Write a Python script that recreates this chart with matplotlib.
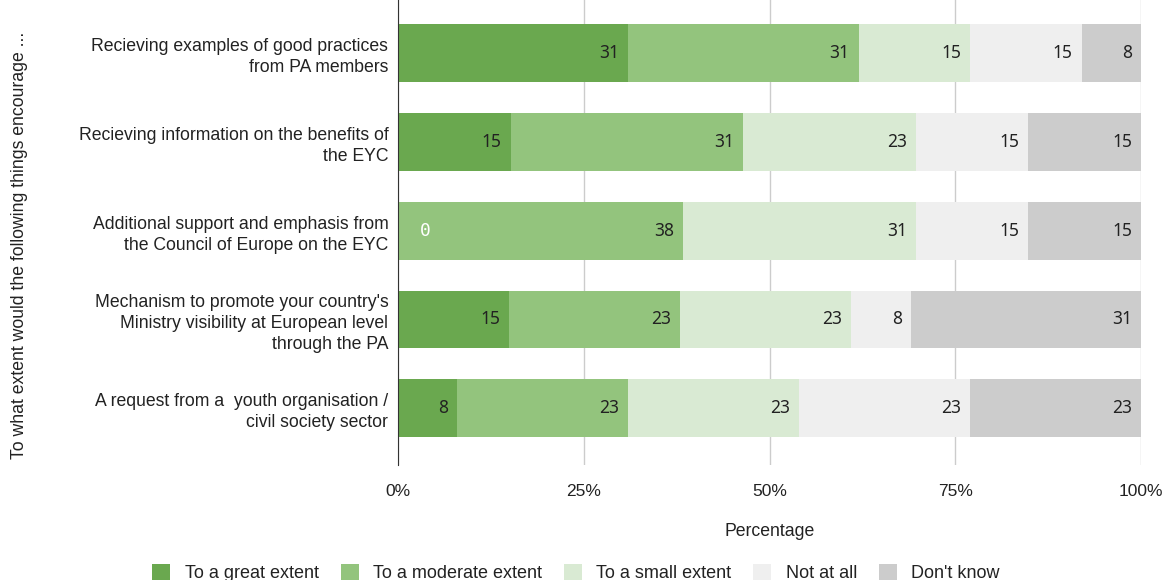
import matplotlib.pyplot as plt
import numpy as np

questions = [
    "Recieving examples of good practices\nfrom PA members",
    "Recieving information on the benefits of\nthe EYC",
    "Additional support and emphasis from\nthe Council of Europe on the EYC",
    "Mechanism to promote your country's\nMinistry visibility at European level\nthrough the PA",
    "A request from a  youth organisation /\ncivil society sector",
]
series = ["To a great extent", "To a moderate extent", "To a small extent", "Not at all", "Don't know"]
colors = ["#6aa84f", "#93c47d", "#d9ead3", "#efefef", "#cccccc"]

great = [31, 15, 0, 15, 8]
moderate = [31, 31, 38, 23, 23]
small = [15, 23, 31, 23, 23]
not_at_all = [15, 15, 15, 8, 23]
dont_know = [8, 15, 15, 31, 23]

plt.rcParams['font.family'] = ['Liberation Sans', 'DejaVu Sans']

data = np.array([great, moderate, small, not_at_all, dont_know], dtype=float)
pct = data / data.sum(axis=0) * 100

fig = plt.figure(figsize=(11.65, 5.8), dpi=100)
ax = fig.add_axes([398 / 1165, 1 - 465 / 580, (1141 - 398) / 1165, 465 / 580])
ax.set_axisbelow(True)

y = np.arange(len(questions))
left = np.zeros(len(questions))
for i, name in enumerate(series):
    ax.barh(y, pct[i], left=left, height=0.65, color=colors[i], label=name, zorder=2)
    for j in range(len(questions)):
        val = int(data[i, j])
        if val == 0:
            ax.annotate(str(val), (left[j], y[j]), xytext=(16, 0), textcoords='offset points',
                        ha='left', va='center', fontsize=13, color='white',
                        family='DejaVu Sans Mono', zorder=3)
        else:
            ax.annotate(str(val), (left[j] + pct[i, j], y[j]), xytext=(-6.5, 0),
                        textcoords='offset points', ha='right', va='center',
                        fontsize=12.5, color='#222222', family='Noto Sans', zorder=3)
    left += pct[i]

ax.set_xlim(0, 100)
ax.set_ylim(4.64, -0.6)
ax.set_yticks(y)
ax.set_yticklabels(questions, fontsize=12.7, color='#222222', linespacing=1.3)
ax.set_xticks([0, 25, 50, 75, 100])
ax.set_xticklabels(['0%', '25%', '50%', '75%', '100%'], fontsize=12.5, color='#222222')
ax.tick_params(axis='y', length=0, pad=7)
ax.tick_params(axis='x', length=0, pad=14)
ax.grid(axis='x', color='#cccccc', linewidth=1, zorder=0)
for s in ['top', 'right', 'bottom']:
    ax.spines[s].set_visible(False)
ax.spines['left'].set_color('#333333')
ax.spines['left'].set_zorder(3)

fig.text(770 / 1165, 1 - 531 / 580, 'Percentage', ha='center', va='center',
         fontsize=12.7, color='#222222')
fig.text(20 / 1165, 1 - 245 / 580, 'To what extent would the following things encourage ...',
         rotation=90, ha='center', va='center', fontsize=12.7, color='#222222')

fig.legend(loc='center', bbox_to_anchor=(576 / 1165, 1 - 573 / 580), ncol=5,
           frameon=False, fontsize=13, handlelength=1.0, handleheight=1.0,
           columnspacing=1.2, handletextpad=0.8, labelcolor='#222222')

fig.savefig('out.png', dpi=100)
